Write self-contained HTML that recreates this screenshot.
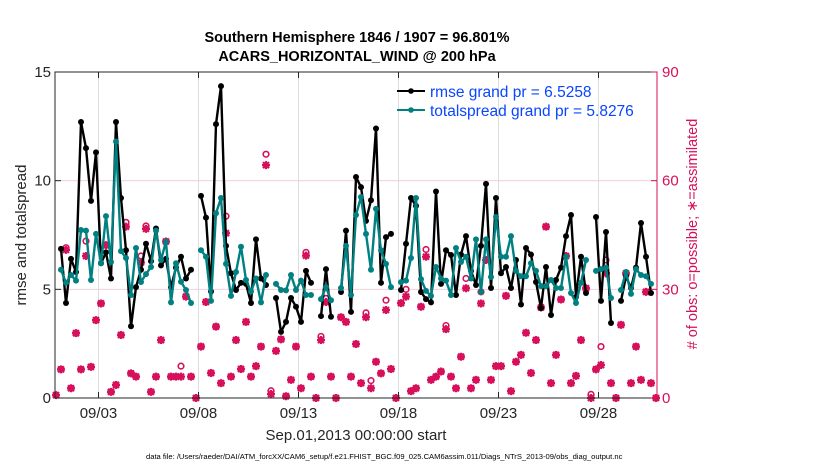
<!DOCTYPE html>
<html><head><meta charset="utf-8"><style>
html,body{margin:0;padding:0;background:#fff;}
svg text{font-family:"Liberation Sans",Arial,sans-serif;}
</style></head><body>
<svg id="chart" width="830" height="470" viewBox="0 0 830 470" xmlns="http://www.w3.org/2000/svg">
<rect x="0" y="0" width="830" height="470" fill="#fff"/>
<g id="grid"></g>
<g id="obs"></g>
<g id="lines"></g>
<rect x="55" y="72" width="602" height="326" fill="none" stroke="#262626" stroke-width="1"/>
<line x1="657" y1="72" x2="657" y2="398" stroke="#d6105a" stroke-width="1"/>
<g id="axes"></g>
<text x="357" y="42" text-anchor="middle" font-size="14.5" font-weight="bold" fill="#000">Southern Hemisphere 1846 / 1907 = 96.801%</text>
<text x="357" y="61" text-anchor="middle" font-size="14.5" font-weight="bold" fill="#000">ACARS_HORIZONTAL_WIND @ 200 hPa</text>
<text transform="translate(26,235) rotate(-90)" text-anchor="middle" font-size="15" fill="#262626">rmse and totalspread</text>
<text transform="translate(697,234) rotate(-90)" text-anchor="middle" font-size="14.5" fill="#d6105a"># of obs: o=possible; ∗=assimilated</text>
<text x="356" y="440" text-anchor="middle" font-size="15" fill="#262626">Sep.01,2013 00:00:00 start</text>
<text x="146" y="459" font-size="7.6" fill="#000">data file: /Users/raeder/DAI/ATM_forcXX/CAM6_setup/f.e21.FHIST_BGC.f09_025.CAM6assim.011/Diags_NTrS_2013-09/obs_diag_output.nc</text>
<g>
<line x1="397" y1="91" x2="425" y2="91" stroke="#000" stroke-width="2"/>
<circle cx="411" cy="91" r="2.8" fill="#000"/>
<text x="430" y="97" font-size="15.5" fill="#0a45ff">rmse grand pr = 6.5258</text>
<line x1="397" y1="110" x2="425" y2="110" stroke="#008080" stroke-width="2"/>
<circle cx="411" cy="110" r="2.8" fill="#008080"/>
<text x="430" y="116" font-size="15.5" fill="#0a45ff">totalspread grand pr = 5.8276</text>
</g>
</svg>
<script>
// time index i: bin center t = -0.125 + 0.25*i days from Sep 1 00:00
const rmse = [null,
6.86,4.37,6.4,5.8,12.7,11.5,9.07,11.3,6.2,6.7,
5.5,12.7,9.2,6.8,3.3,5.1,5.9,7.1,6.3,7.8,
6.1,6.4,5.1,6.0,6.5,5.5,5.9,null,9.3,8.3,
4.9,12.6,14.35,7.0,5.74,4.97,5.3,5.25,4.37,7.3,
5.5,5.2,null,4.6,3.04,3.5,4.6,4.2,3.5,5.85,
5.3,null,3.77,5.93,3.74,null,4.88,7.7,3.96,10.17,
9.7,8.15,9.1,12.4,5.3,7.4,7.55,null,4.97,7.1,
9.2,8.84,4.88,4.55,4.4,9.5,5.25,6.8,6.58,4.74,
6.6,7.45,5.85,5.2,7.0,9.85,5.06,9.2,5.74,6.03,
5.06,6.35,4.3,6.9,6.6,5.34,4.14,6.03,3.82,5.43,
6.0,7.45,8.42,4.65,6.5,4.83,null,8.33,4.47,7.64,
3.45,null,4.47,5.6,5.06,6.0,8.05,6.5,4.83,null];
const spread = [null,
5.9,5.3,5.66,5.4,7.73,7.7,5.43,7.55,6.2,8.37,
6.26,11.8,6.76,6.44,4.74,6.9,5.34,5.7,6.03,7.7,
6.35,7.2,4.4,6.2,5.35,4.97,4.37,null,6.8,6.5,
4.47,8.5,9.2,6.17,4.7,5.8,6.96,5.43,4.9,5.5,
4.4,5.66,null,5.25,4.97,4.95,5.66,4.97,5.4,4.74,
4.74,null,4.55,5.1,4.5,null,5.06,7.0,4.74,8.42,
9.25,7.55,5.9,8.7,6.8,6.17,5.1,null,5.33,5.4,
6.44,9.2,5.47,4.93,4.7,6.03,5.5,5.4,4.74,6.9,
6.26,6.5,5.5,7.3,4.88,7.3,5.57,8.33,6.5,6.5,
7.45,5.85,5.6,5.6,6.2,5.85,5.15,5.15,5.43,5.06,
5.06,6.5,4.83,4.37,5.3,6.35,null,5.85,5.93,6.0,
4.6,null,4.97,5.8,4.79,5.93,5.66,5.6,5.25,null];
const assimilated = [
0.8,7.9,40.9,2.7,17.9,7.9,39.2,8.6,21.5,26.1,
42.2,1.7,3.6,17.4,47.3,6.8,5.9,37.4,46.7,1.7,
5.9,16,43.2,5.9,5.9,5.9,28,5.9,0,14.2,
26.5,6.9,19.7,4.1,45.5,5.9,16,8,21,5.9,
8.8,14.2,64.3,1.1,13,16.2,0.5,5,14.2,2.7,
39.3,5.9,0,16,26.5,5.9,0,22.3,21,5.9,
14.9,4.1,22.3,2.7,10,6.8,24.3,8,0,26.2,
28,1.9,2.7,25.2,39,5,5.9,7.3,19,5.9,
2.7,11.4,30.3,2.7,5,26.1,38.1,5,8.8,8.8,
28.2,1.9,10,11.9,18,6.9,16,25,47.3,4.1,
11.9,27.2,39.2,4.1,6.1,16,30.3,0,7.9,9.1,
34.4,4.1,0,20.2,34.4,4.1,14.2,5,29.3,4.1,0];
const possible = [
0.8,7.9,41.5,2.7,17.9,7.9,43.3,8.6,21.5,26.1,
42.2,1.7,3.6,17.4,48.5,6.8,5.9,39.2,47.5,1.7,
5.9,16,43.2,5.9,5.9,8.8,28,5.9,0,14.2,
26.5,6.9,19.7,4.1,50.2,5.9,16,8,21,5.9,
8.8,14.2,67.3,2.0,13,16.2,0.5,5,14.2,2.7,
40.2,5.9,0,17,27.5,5.9,0,22.3,21,5.9,
14.9,4.1,23.5,4.8,10,6.8,27,8,0,26.2,
30,1.9,2.7,25.2,41,5,5.9,7.3,20,5.9,
2.7,11.4,33,2.7,5,29.3,38.1,5,8.8,8.8,
28.2,1.9,10,11.9,18,6.9,16,25,47.3,4.1,
11.9,27.2,39.2,4.1,6.1,16,30.3,1,7.9,14.2,
38.1,4.1,0,20.2,34.4,4.1,14.2,5,29.3,4.1,0];
const xTickDays = [2,7,12,17,22,27];
const xTickLabels = ["09/03","09/08","09/13","09/18","09/23","09/28"];
const yTicks = [0,5,10,15];
const y2Ticks = [0,30,60,90];

const NS='http://www.w3.org/2000/svg';
const PL=55, PR=657, PT=72, PB=398;
const X0=58.5, PXDAY=20;
function xDay(d){return X0 + d*PXDAY;}
function xIdx(i){return xDay(-0.125 + 0.25*i);}
function yL(v){return PB - (v-0)/(15-0)*(PB-PT);}
function yR(v){return PB - (v-0)/(90-0)*(PB-PT);}
function mk(tag,attrs,parent){const e=document.createElementNS(NS,tag);for(const k in attrs)e.setAttribute(k,attrs[k]);parent.appendChild(e);return e;}
const grid=document.getElementById('grid'), axes=document.getElementById('axes');
const obsG=document.getElementById('obs'), linesG=document.getElementById('lines');

xTickDays.forEach((d,j)=>{
  const x=xDay(d);
  const g=mk('line',{x1:x,y1:PT,x2:x,y2:PB,stroke:'#dcdcdc','stroke-width':1},grid);
  
  
  const t1=mk('line',{x1:x,y1:PB,x2:x,y2:PB-6,stroke:'#262626','stroke-width':1},axes);
  
  
  const t2=mk('line',{x1:x,y1:PT,x2:x,y2:PT+6,stroke:'#262626','stroke-width':1},axes);
  
  
  const lb=mk('text',{x:x,y:418,'text-anchor':'middle','font-size':15,fill:'#262626'},axes);
  lb.textContent=xTickLabels[j];
  
  
});
yTicks.forEach(v=>{
  const y=yL(v);
  if(v>0&&v<15){
    const g=mk('line',{x1:PL,y1:y,x2:PR,y2:y,stroke:'#f0d0dc','stroke-width':1},grid);
    
    
  }
  const t=mk('line',{x1:PL,y1:y,x2:PL+6,y2:y,stroke:'#262626','stroke-width':1},axes);
  
  
  const lb=mk('text',{x:PL-4,y:y+5,'text-anchor':'end','font-size':15,fill:'#262626'},axes);
  lb.textContent=v;
  
  
});
y2Ticks.forEach(v=>{
  const y=yR(v);
  const t=mk('line',{x1:PR,y1:y,x2:PR-6,y2:y,stroke:'#d6105a','stroke-width':1},axes);
  
  
  const lb=mk('text',{x:PR+5,y:y+5,'font-size':15,fill:'#d6105a'},axes);
  lb.textContent=v;
  
  
});

const PINK='#d6105a';
possible.forEach((v,i)=>{
  if(v==null)return;
  const c=mk('circle',{cx:xIdx(i),cy:yR(v),r:2.8,fill:'none',stroke:PINK,'stroke-width':1.6},obsG);
  
  
});
assimilated.forEach((v,i)=>{
  if(v==null)return;
  const x=xIdx(i), y=yR(v), s=4;
  const p=mk('path',{d:`M${x-s},${y}H${x+s}M${x},${y-s}V${y+s}M${x-3},${y-3}L${x+3},${y+3}M${x-3},${y+3}L${x+3},${y-3}`,stroke:PINK,'stroke-width':2.2,fill:'none'},obsG);
  
  
});

function drawSeries(arr,color,name){
  let d='', pen=false;
  arr.forEach((v,i)=>{
    if(v==null){pen=false;return;}
    d+=(pen?'L':'M')+xIdx(i).toFixed(1)+','+yL(v).toFixed(1);
    pen=true;
  });
  const p=mk('path',{d:d,fill:'none',stroke:color,'stroke-width':2.4,'stroke-linejoin':'round'},linesG);
  
  
  arr.forEach((v,i)=>{
    if(v==null)return;
    const c=mk('circle',{cx:xIdx(i),cy:yL(v),r:3,fill:color},linesG);
    
    
  });
}
drawSeries(rmse,'#000','rmse');
drawSeries(spread,'#008080','totalspread');
</script>
</body></html>
